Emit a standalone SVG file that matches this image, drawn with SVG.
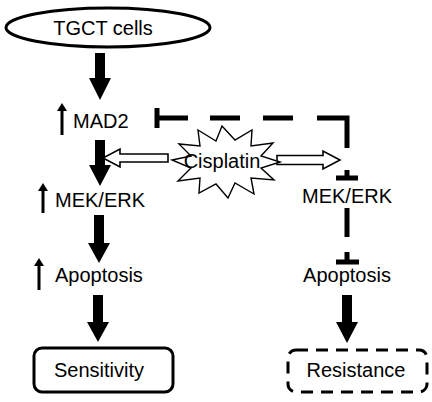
<svg xmlns="http://www.w3.org/2000/svg" width="432" height="402" viewBox="0 0 432 402">
<defs>
<style>
text{font-family:"Liberation Sans",Arial,Helvetica,sans-serif;font-size:20px;fill:#000}
.mid{text-anchor:middle}
.box{fill:#fff;stroke:#000;stroke-width:3}
.inh{stroke:#000;stroke-width:5;fill:none}
.open{fill:#fff;stroke:#000;stroke-width:1.6}
</style>
</defs>
<g id="connectors">
<!-- solid down arrows -->
<path d="M95,53 H105 V78 H111 L100,100 L89,78 H95 z"/>
<path d="M95,140 H105 V165 H111 L100,186 L89,165 H95 z"/>
<path d="M94,215 H104 V243 H110 L99,263 L88,243 H94 z"/>
<path d="M93,295 H103 V322 H109 L98,342 L87,322 H93 z"/>
<path d="M342,295 H352 V322 H358 L347,343 L336,322 H342 z"/>
<!-- small up arrows -->
<path d="M60.5,135 V111 H57 L62,103 L67,111 H63.5 V135 z"/>
<path d="M41.5,213 V191 H38 L43,183 L48,191 H44.5 V213 z"/>
<path d="M37.5,290 V266 H34 L39,258 L44,266 H40.5 V290 z"/>
<!-- dashed inhibition from Cisplatin path to MAD2 -->
<path class="inh" d="M157,108 V128"/>
<path class="inh" d="M157,118 H188 M210,118 H240 M263,118 H293 M317,118 H347 V148"/>
<path class="inh" d="M347,170 V178 M336,178 H358"/>
<!-- right MEK/ERK inhibits Apoptosis (dashed) -->
<path class="inh" d="M347,208 V237 M347,252 V262 M336,262 H359"/>
<!-- open arrows -->
<path class="open" d="M168,154 H120 V149 L103,158 L120,167 V162 H168 z"/>
<path class="open" d="M277,155.5 H323 V151 L340,160 L323,169 V164.5 H277 z"/>
</g>
<g id="tgct">
<ellipse class="box" cx="108" cy="27.5" rx="102" ry="19.5" stroke-width="2.2"/>
<text class="mid" x="103" y="35">TGCT cells</text>
</g>
<g id="mad2">
<text x="73" y="128">MAD2</text>
</g>
<g id="mek-left">
<text x="55" y="207">MEK/ERK</text>
</g>
<g id="apoptosis-left">
<text x="55" y="282">Apoptosis</text>
</g>
<g id="sensitivity">
<rect class="box" x="34" y="348" width="139" height="44" rx="8"/>
<text class="mid" x="99" y="377">Sensitivity</text>
</g>
<g id="cisplatin">
<polygon fill="#fff" stroke="#000" stroke-width="1.4" points="280,162 261,168 274,180 251,178 254,194 235,183 228,198 216,184 199,193 200,178 178,181 191,168 172,160 191,156 179,144 200,146 198,130 216,141 222,126 235,140 252,130 251,146 273,143 261,156"/>
<text class="mid" x="222" y="168">Cisplatin</text>
</g>
<g id="mek-right">
<text class="mid" x="347" y="203">MEK/ERK</text>
</g>
<g id="apoptosis-right">
<text class="mid" x="347" y="282">Apoptosis</text>
</g>
<g id="resistance">
<rect class="box" x="288" y="350" width="139" height="42" rx="8" stroke-dasharray="12,8"/>
<text class="mid" x="356" y="377">Resistance</text>
</g>
</svg>
